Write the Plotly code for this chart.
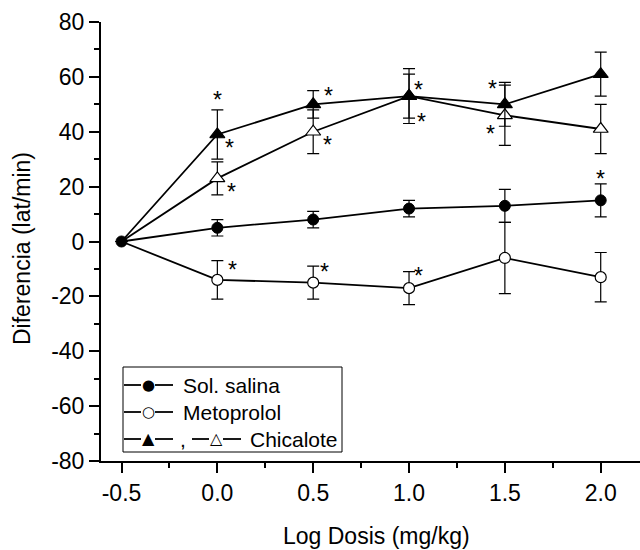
import plotly.graph_objects as go

# ---- data ----
dose = [-0.5, 0.0, 0.5, 1.0, 1.5, 2.0]

salina = [0, 5, 8, 12, 13, 15]
salina_err = [0, 3, 3, 3, 6, 6]

metoprolol = [0, -14, -15, -17, -6, -13]
metoprolol_err = [0, 7, 6, 6, 13, 9]

chic_filled = [0, 39, 50, 53, 50, 61]
chic_filled_err = [0, 9, 5, 10, 8, 8]

chic_open = [0, 23, 40, 53, 46, 41]
chic_open_err = [0, 6, 8, 8, 11, 9]

# significance markers (x, y)
star_x = [0.0, 0.062, 0.075, 0.581, 0.576, 1.052, 1.064, 1.434, 1.426, 2.001, 0.078, 0.558, 1.052]
star_y = [53.6, 36.2, 20.1, 55.1, 37.2, 57.3, 45.7, 57.9, 41.5, 25.0, -8.1, -8.8, -10.3]

legend_labels = ["Sol. salina", "Metoprolol", "Chicalote"]

xticks = [-0.5, 0.0, 0.5, 1.0, 1.5, 2.0]
xtick_text = ["-0.5", "0.0", "0.5", "1.0", "1.5", "2.0"]
yticks = [-80, -60, -40, -20, 0, 20, 40, 60, 80]
ytick_text = ["-80", "-60", "-40", "-20", "0", "20", "40", "60", "80"]

FONT = "Liberation Sans, Arial, sans-serif"
FS = 23

# plot-area geometry (pixels)
L, R, T, B = 101, 640, 22, 461
PW, PH = R - L, B - T


def px(xp):
    return (xp - L) / PW


def py(yp):
    return (B - yp) / PH


fig = go.Figure()


def err(arr):
    return dict(type="data", array=arr, visible=True, color="black",
                thickness=1.2, width=6)


tri_size = [0, 13, 13, 13, 13, 13]
circ_size = [0, 11, 11, 11, 11, 11]

fig.add_trace(go.Scatter(x=dose, y=chic_open, mode="lines+markers",
                         line=dict(color="black", width=1.8),
                         marker=dict(symbol="triangle-up", size=tri_size, color="white", opacity=1,
                                     line=dict(color="black", width=1.2)),
                         error_y=err(chic_open_err), showlegend=False))
fig.add_trace(go.Scatter(x=dose, y=chic_filled, mode="lines+markers",
                         line=dict(color="black", width=1.8),
                         marker=dict(symbol="triangle-up", size=tri_size, color="black", opacity=1,
                                     line=dict(color="black", width=1.2)),
                         error_y=err(chic_filled_err), showlegend=False))
fig.add_trace(go.Scatter(x=dose, y=metoprolol, mode="lines+markers",
                         line=dict(color="black", width=1.8),
                         marker=dict(symbol="circle", size=circ_size, color="white", opacity=1,
                                     line=dict(color="black", width=1.2)),
                         error_y=err(metoprolol_err), showlegend=False))
fig.add_trace(go.Scatter(x=dose, y=salina, mode="lines+markers",
                         line=dict(color="black", width=1.8),
                         marker=dict(symbol="circle", size=11, color="black", opacity=1,
                                     line=dict(color="black", width=1)),
                         error_y=err(salina_err), showlegend=False))

for sx, sy in zip(star_x, star_y):
    fig.add_annotation(x=sx, y=sy, text="*", showarrow=False, yshift=-6,
                       font=dict(family=FONT, size=23, color="black"))

# ---- legend (drawn as decoration) ----
fig.add_shape(type="rect", xref="paper", yref="paper",
              x0=px(123), x1=px(342), y0=py(452), y1=py(367),
              line=dict(color="black", width=1), fillcolor="white", layer="above")

leg_rows = [385, 412, 439]
leg_glyphs = [["●"], ["○"], ["▲", "△"]]
leg_text_x = [181, 181, 248]
for row, (ypx, glyphs, lab, tx) in enumerate(zip(leg_rows, leg_glyphs, legend_labels, leg_text_x)):
    starts = [124] if len(glyphs) == 1 else [124, 192]
    for g, s in zip(glyphs, starts):
        for a, b in [(s, s + 17), (s + 31, s + 49)]:
            fig.add_shape(type="line", xref="paper", yref="paper",
                          x0=px(a), x1=px(b), y0=py(ypx), y1=py(ypx),
                          line=dict(color="black", width=1.8), layer="above")
        is_circ = g in "●○"
        fig.add_annotation(xref="paper", yref="paper", x=px(s + 24), y=py(ypx),
                           xanchor="center", yanchor="middle", text=g, showarrow=False,
                           yshift=0 if is_circ else 1,
                           font=dict(family="DejaVu Sans", size=15 if is_circ else 16,
                                     color="black"))
    if len(glyphs) == 2:
        fig.add_annotation(xref="paper", yref="paper", x=px(183), y=py(ypx),
                           xanchor="center", yanchor="middle", text=",", showarrow=False,
                           font=dict(family=FONT, size=21, color="black"))
    fig.add_annotation(xref="paper", yref="paper", x=px(tx), y=py(ypx),
                       xanchor="left", yanchor="middle", text=lab, showarrow=False,
                       font=dict(family=FONT, size=21, color="black"))

# ---- axis titles ----
fig.add_annotation(xref="paper", yref="paper", x=px(376), y=py(536),
                   xanchor="center", yanchor="middle", text="Log Dosis (mg/kg)",
                   showarrow=False, font=dict(family=FONT, size=FS, color="black"))
fig.add_annotation(xref="paper", yref="paper", x=px(22), y=py(249),
                   xanchor="center", yanchor="middle", text="Diferencia (lat/min)",
                   textangle=-90, showarrow=False,
                   font=dict(family=FONT, size=FS, color="black"))

fig.update_layout(
    width=640, height=550,
    margin=dict(l=L, r=640 - R, t=T, b=550 - B, pad=0),
    plot_bgcolor="white", paper_bgcolor="white",
    font=dict(family=FONT, size=FS, color="black"),
    showlegend=False,
)
fig.update_xaxes(range=[-0.607, 2.205], tickvals=xticks, ticktext=xtick_text,
                 showline=True, linecolor="black", linewidth=2,
                 ticks="outside", ticklen=10, tickwidth=2, tickcolor="black",
                 minor=dict(dtick=0.25, tick0=0, ticks="outside", ticklen=5, tickwidth=1.5,
                            tickcolor="black"),
                 showgrid=False, zeroline=False,
                 tickfont=dict(family=FONT, size=FS))
fig.update_yaxes(range=[-80, 80], tickvals=yticks, ticktext=ytick_text,
                 showline=True, linecolor="black", linewidth=2,
                 ticks="outside", ticklen=10, tickwidth=2, tickcolor="black",
                 minor=dict(dtick=10, tick0=0, ticks="outside", ticklen=5, tickwidth=1.5,
                            tickcolor="black"),
                 showgrid=False, zeroline=False,
                 tickfont=dict(family=FONT, size=FS))

fig.write_html("out.html")
